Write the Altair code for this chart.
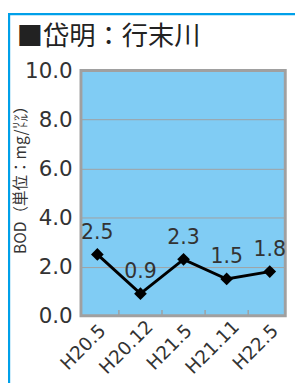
import json
import altair as alt
import pandas as pd

# ---- data ----
periods = ["H20.5", "H20.12", "H21.5", "H21.11", "H22.5"]
bod = [2.5, 0.9, 2.3, 1.5, 1.8]
y_ticks = [0, 2, 4, 6, 8, 10]
title_text = "■岱明：行末川"
y_title = "BOD（単位：mg/㍑）"

df = pd.DataFrame({"idx": list(range(len(periods))), "period": periods, "bod": bod})
bounds = pd.DataFrame({"b": [i + 0.5 for i in range(len(periods) - 1)]})
frame_df = pd.DataFrame({"a": [0]})

NUM_FONT = "DejaVu Sans"
CJK_FONT = "Noto Sans CJK JP"
GRAY = "#a0a0a0"

x_scale = alt.Scale(domain=[-0.38, 4.36], nice=False, zero=False)
y_scale = alt.Scale(domain=[0, 10], nice=False)

label_expr = json.dumps(periods) + "[datum.value]"

x_axis = alt.Axis(
    values=list(range(len(periods))), labelExpr=label_expr, title=None,
    labelAngle=-45, labelAlign="center", labelBaseline="middle",
    labelOffset=-15, labelPadding=32, labelFont=NUM_FONT, labelFontSize=19,
    labelColor="#333333", labelOverlap=False, ticks=False, domain=False, grid=False,
)
y_axis = alt.Axis(
    values=y_ticks, format=".1f", title=y_title, titleFont=CJK_FONT,
    titleFontSize=16, titleFontWeight="normal", titleColor="#333333",
    titleAngle=270, titleAlign="center", titleBaseline="middle",
    titleX=-62, titleY=108, labelFont=NUM_FONT, labelFontSize=22,
    labelColor="#333333", labelPadding=9, labelOverlap=False, ticks=False, domain=False,
    grid=True, gridColor=GRAY, gridWidth=1,
)

base = alt.Chart(df)

line = base.mark_line(color="black", strokeWidth=3).encode(
    x=alt.X("idx:Q", scale=x_scale, axis=x_axis),
    y=alt.Y("bod:Q", scale=y_scale, axis=y_axis),
)
points = base.mark_point(shape="diamond", filled=True, color="black", size=170, opacity=1).encode(
    x=alt.X("idx:Q", scale=x_scale),
    y=alt.Y("bod:Q", scale=y_scale),
)
labels = base.mark_text(dy=-22, font=NUM_FONT, fontSize=21, color="#333333").encode(
    x=alt.X("idx:Q", scale=x_scale),
    y=alt.Y("bod:Q", scale=y_scale),
    text=alt.Text("bod:Q", format=".1f"),
)
ticks = alt.Chart(bounds).mark_rule(color=GRAY, strokeWidth=1.5).encode(
    x=alt.X("b:Q", scale=x_scale),
    y=alt.value(252),
    y2=alt.value(246),
)
outer = alt.Chart(frame_df).mark_rect(fill=None, stroke="#00a0e9", strokeWidth=2.5).encode(
    x=alt.value(-74), x2=alt.value(320), y=alt.value(-58), y2=alt.value(420),
)

chart = alt.layer(ticks, line, points, labels, outer).properties(
    width=210, height=252,
    autosize=alt.AutoSizeParams(type="none"),
    padding={"left": 75, "top": 59, "right": 10, "bottom": 70},
    title=alt.TitleParams(
        title_text, anchor="start", frame="group", font=CJK_FONT, fontSize=27,
        fontWeight="normal", color="#222222", dx=-66, dy=43, offset=4,
    ),
).configure(
    background="white",
    view=alt.ViewConfig(fill="#80ccf4", stroke=GRAY, strokeWidth=3),
)

chart.save("out.html", embed_options={"renderer": "svg", "actions": False})
